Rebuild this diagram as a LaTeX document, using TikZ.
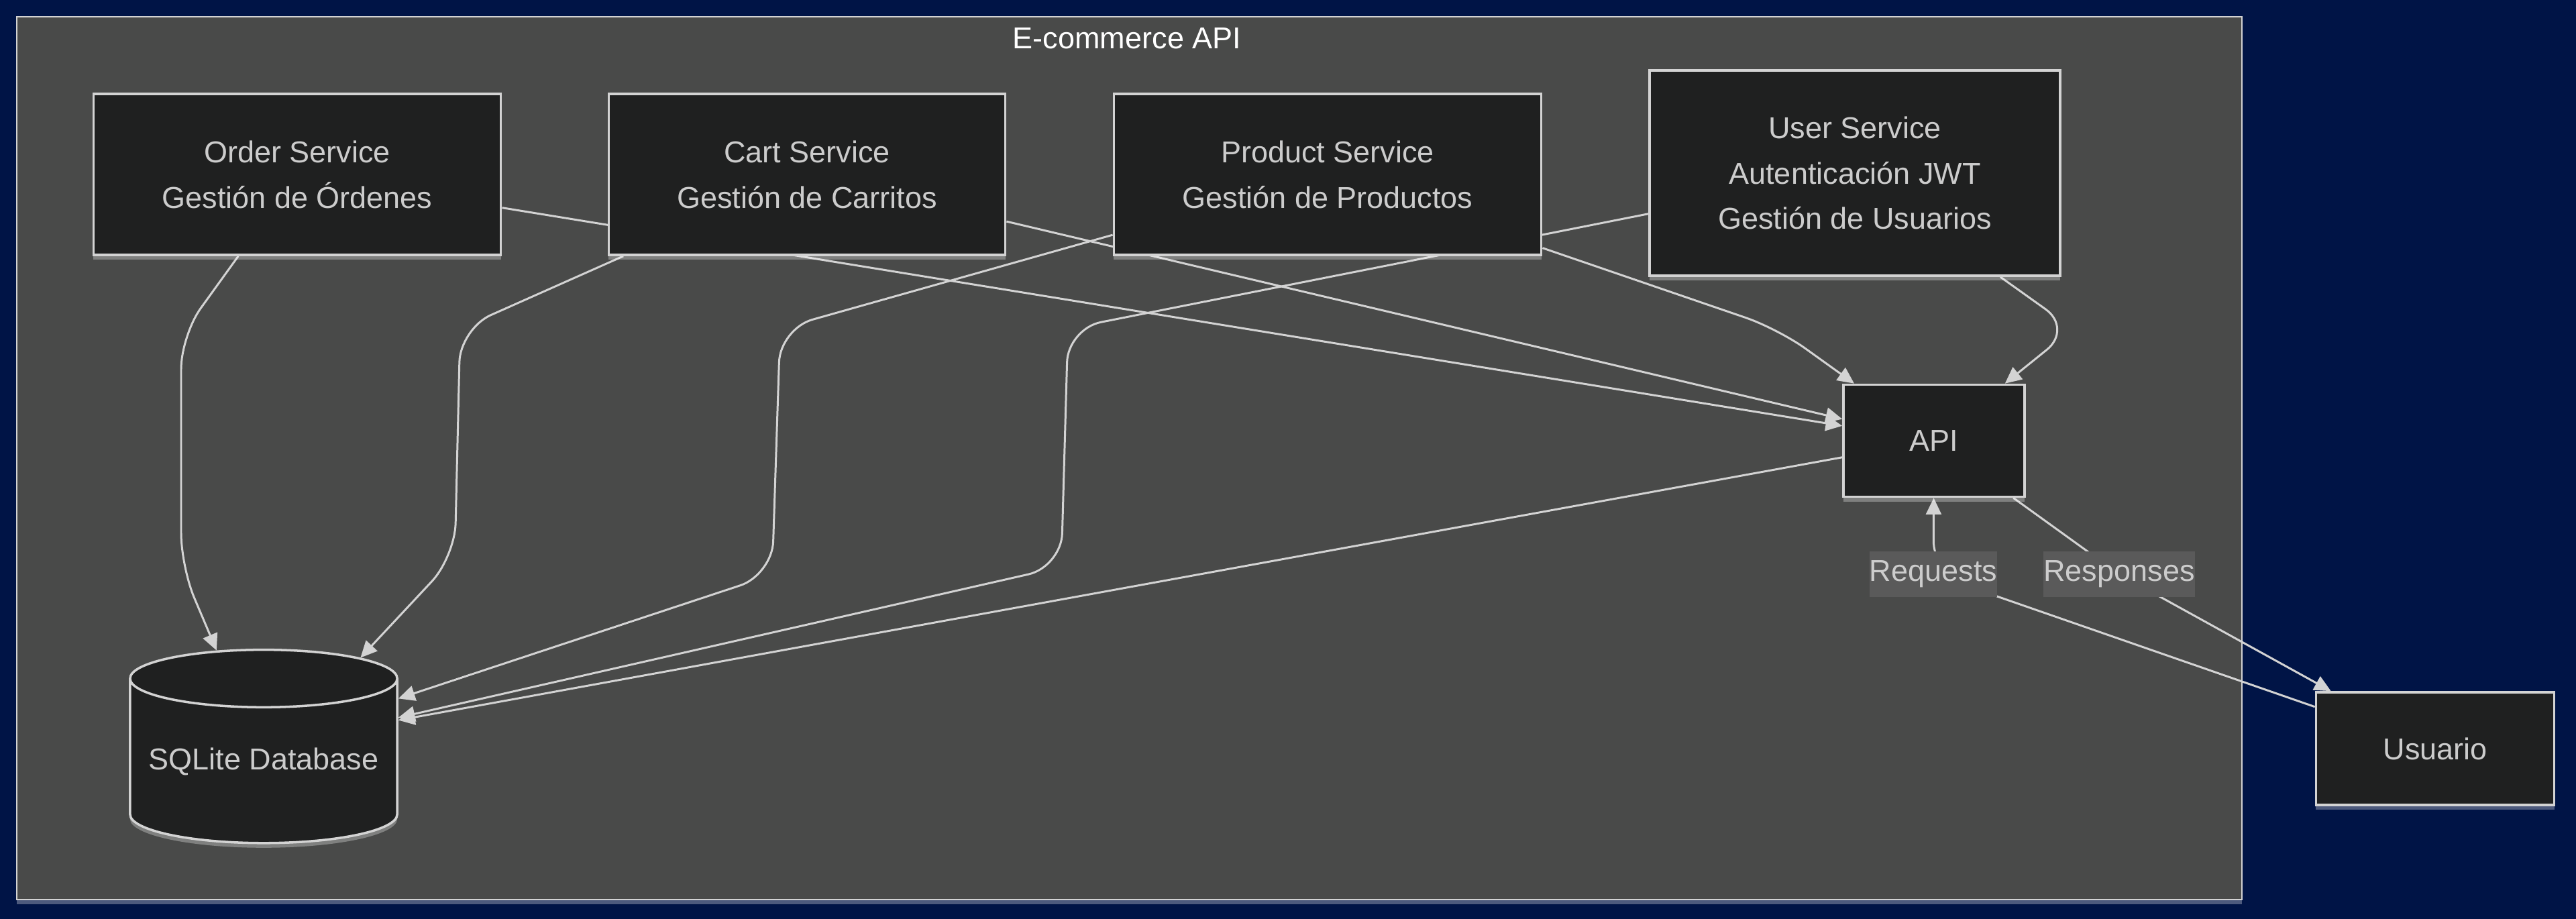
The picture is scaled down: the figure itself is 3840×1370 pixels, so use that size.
\documentclass[tikz,border=0pt]{standalone}
\usepackage{fontspec}
\setmainfont{Liberation Sans}
\usetikzlibrary{shapes.geometric,arrows.meta,shadows}
\definecolor{navy}{RGB}{0,20,70}
\definecolor{panel}{RGB}{73,74,73}
\definecolor{boxfill}{RGB}{31,32,32}
\definecolor{lightline}{RGB}{211,211,211}
\definecolor{txt}{RGB}{204,204,204}
\definecolor{lblfill}{RGB}{90,90,90}
\pgfdeclarelayer{bg}
\pgfdeclarelayer{wires}
\pgfsetlayers{bg,wires,main}

\begin{document}
\begin{tikzpicture}[x=0.01cm,y=-0.01cm,
  every node/.style={font=\fontsize{12.8}{19.3}\selectfont,text=txt},
  svc/.style={draw=lightline,line width=1pt,fill=boxfill,align=center,inner sep=0pt,
    drop shadow={shadow xshift=0pt,shadow yshift=-2pt,fill=white,opacity=.3}},
  store/.style={svc,cylinder,shape border rotate=90,aspect=0.25},
  lbl/.style={fill=lblfill,sharp corners,inner xsep=0pt,minimum height=0.68cm},
  wire/.style={draw=lightline,line width=0.85pt,rounded corners=0.5cm,
    -{Triangle[length=7pt,width=6.5pt]}}]
\useasboundingbox (0,0) rectangle (3840,1370);
\node[svc,minimum width=6.07cm,minimum height=2.4cm] (ord) at (443,260) {Order Service\\Gestión de Órdenes};
\node[svc,minimum width=5.91cm,minimum height=2.4cm] (cart) at (1203,260) {Cart Service\\Gestión de Carritos};
\node[svc,minimum width=6.37cm,minimum height=2.4cm] (prod) at (1979,260) {Product Service\\Gestión de Productos};
\node[svc,minimum width=6.12cm,minimum height=3.06cm] (usr) at (2765,258) {User Service\\Autenticación JWT\\Gestión de Usuarios};
\node[svc,minimum width=2.7cm,minimum height=1.67cm] (api) at (2883,657) {API};
\node[store,minimum width=3.98cm,minimum height=2.88cm] (db) at (393,1135) {SQLite Database};
\node[svc,minimum width=3.55cm,minimum height=1.68cm] (usu) at (3630,1116) {Usuario};
\node[text=white] (title) at (1680,57) {E-commerce API};
\begin{pgfonlayer}{bg}
\fill[navy] (0,0) rectangle (3840,1370);
\draw[lightline,line width=0.7pt,fill=panel,drop shadow={shadow xshift=0pt,shadow yshift=-2pt,fill=white,opacity=.3}] (25,25) rectangle (3342,1341);
\end{pgfonlayer}
\begin{pgfonlayer}{wires}
\draw[wire] (ord) -- (270,500) -- (270,845) -- (db);
\draw[wire] (cart) -- (686,490) -- (678,830) -- (db);
\draw[wire] (prod) -- (1163,490) -- (1151,857) -- (db.25);
\draw[wire] (usr) -- (1592,490) -- (1582,845) -- (db.18);
\draw[wire] (api) -- (db.17);
\draw[wire] (ord) -- (api);
\draw[wire] (cart) -- (api);
\draw[wire] (prod) -- (2650,490) -- (api);
\draw[wire] (usr) -- (3090,490) -- (api);
\draw[wire] (usu) -- (2882,856) node[lbl] (req) {Requests} -- (api);
\draw[wire] (api) -- (3159,856) node[lbl] (resp) {Responses} -- (usu);
\end{pgfonlayer}
\end{tikzpicture}
\end{document}
